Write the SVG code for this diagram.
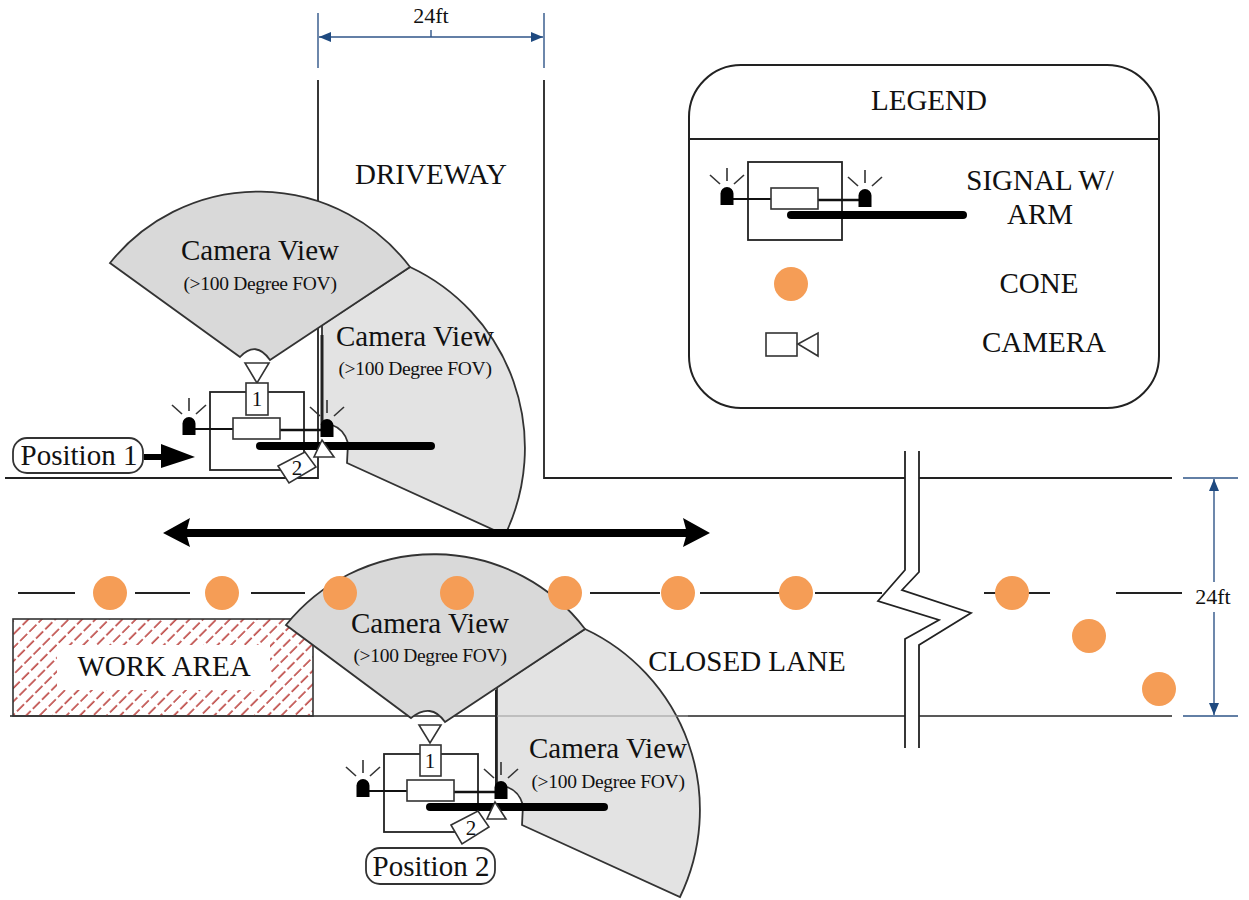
<svg xmlns="http://www.w3.org/2000/svg" xmlns:xlink="http://www.w3.org/1999/xlink" width="1249" height="900" viewBox="0 0 1249 900">
<style>
text{font-family:"Liberation Serif","Times New Roman",serif;fill:#111;text-anchor:middle}
.t28{font-size:29px}.t19{font-size:19.5px;letter-spacing:-.3px}.t20{font-size:21px}.t22{font-size:22px}
.road{fill:none;stroke:#222;stroke-width:1.8}
.dim{fill:none;stroke:#2f5588;stroke-width:1.4}
.dash{stroke:#222;stroke-width:1.8;fill:none}
.cone{fill:#f59d56}
.fan1{fill:#d9d9d9;stroke:#333;stroke-width:1.8}
.fan2{fill:#e3e3e3;stroke:#333;stroke-width:1.8}
.box{fill:none;stroke:#222;stroke-width:1.8}
.wbox{fill:#fff;stroke:#333;stroke-width:1.6}
.thin{fill:none;stroke:#111;stroke-width:1.8}
.thick{fill:none;stroke:#111;stroke-width:2.6}
.bar{stroke:#000;stroke-width:8;stroke-linecap:round}
.ray{stroke:#333;stroke-width:1.6}
.lamp{fill:#000}
.pill{fill:#fff;stroke:#333;stroke-width:1.8}
</style>
<defs>
<pattern id="hatch" width="9.5" height="13" patternUnits="userSpaceOnUse" patternTransform="rotate(45)">
<line x1="2" y1="0" x2="2" y2="13" stroke="#c0504d" stroke-width="1.7" stroke-dasharray="10 3"/>
</pattern>
<marker id="dimA" markerWidth="13" markerHeight="10" refX="12" refY="5" orient="auto-start-reverse" markerUnits="userSpaceOnUse"><path d="M0 0L12 5L0 10z" fill="#1f4a80"/></marker>
<g id="lampShape">
<path class="lamp" d="M-6.5 18V6.5a6.5 6.5 0 0 1 13 0V18z"/>
<line class="ray" x1="0" y1="-19" x2="0" y2="-6"/><line class="ray" x1="-17" y1="-12" x2="-7" y2="-3"/><line class="ray" x1="17" y1="-12" x2="7" y2="-3"/>
</g>
<g id="signal">
<rect class="box" x="210" y="392" width="94" height="78"/>
<line class="thin" x1="190" y1="429" x2="233" y2="429"/>
<line class="thick" x1="280" y1="430" x2="327" y2="430"/>
<rect x="233" y="418" width="47" height="21" fill="#fff" stroke="#333" stroke-width="1.6"/>
<use href="#lampShape" x="189" y="417"/>
<use href="#lampShape" x="327" y="419"/>
</g>
</defs>

<g id="connectors">
<path class="road" d="M318 80V478H5"/>
<path class="road" d="M544 80V478H1172"/>
<path class="road" d="M10 716H1172" stroke-opacity=".75"/>
<path class="dash" d="M18 593H75M135 593H190M251 593H305M360 593H430M480 593H540M590 593H660M700 593H780M815 593H882M984 593H1050M1116 593H1182"/>
<path class="dim" d="M318 13V68M544 13V68M431 30V37M1183 478H1238M1183 716H1238"/>
<line class="dim" x1="319" y1="37" x2="543" y2="37" marker-start="url(#dimA)" marker-end="url(#dimA)"/>
<line class="dim" x1="1214" y1="479" x2="1214" y2="582" marker-start="url(#dimA)"/>
<line class="dim" x1="1214" y1="612" x2="1214" y2="715" marker-end="url(#dimA)"/>
</g>

<g id="work-area">
<rect x="13" y="619" width="300" height="97" fill="url(#hatch)" stroke="#333" stroke-width="1.6"/>
<rect x="57" y="645" width="213" height="45" fill="#fff"/>
<text class="t28" x="164" y="676">WORK AREA</text>
</g>

<g id="road-break">
<path d="M905 451V570L878 601L939 620L905 639V748H919V645L971 613L902 590L919 572V451z" fill="#fff"/>
<path class="road" d="M905 451V570L878 601L939 620L905 639V748"/>
<path class="road" d="M919 451V572L902 590L971 613L919 645V748"/>
</g>

<g id="view-position1">
<path class="fan2" d="M410 267A200 200 0 0 1 505 535L347 463L348 443Q344 429 332 425L322 420V325z"/>
<line x1="322" y1="335" x2="322" y2="425" stroke="#222" stroke-width="3"/>
<path class="fan1" d="M110 263A190 190 0 0 1 410 267L270 360Q256 340 240 357z"/>
</g>
<g id="view-position2">
<path class="fan2" d="M585 629A200 200 0 0 1 680 897L522 825L523 805Q519 791 507 787L497 782V687z"/>
<line x1="496" y1="690" x2="496" y2="790" stroke="#222" stroke-width="2"/>
<line x1="497" y1="716" x2="688" y2="716" stroke="#999" stroke-width="1"/>
<path class="fan1" d="M286 625A190 190 0 0 1 585 629L445 722Q431 702 411 718z"/>
</g>

<g id="direction-arrow">
<line x1="180" y1="533" x2="695" y2="533" stroke="#000" stroke-width="8"/>
<path d="M163 533L190 518L186 533L190 547z" fill="#000"/>
<path d="M710 533L683 518L687 533L683 547z" fill="#000"/>
</g>

<g id="cones">
<circle class="cone" cx="110" cy="593" r="17"/><circle class="cone" cx="222" cy="593" r="17"/><circle class="cone" cx="340" cy="593" r="17"/><circle class="cone" cx="457" cy="593" r="17"/><circle class="cone" cx="565" cy="593" r="17"/><circle class="cone" cx="678" cy="593" r="17"/><circle class="cone" cx="796" cy="593" r="17"/><circle class="cone" cx="1012" cy="593" r="17"/><circle class="cone" cx="1089" cy="636" r="17"/><circle class="cone" cx="1159" cy="689" r="17"/>
</g>

<g id="signal-position1">
<use href="#signal"/>
<line class="bar" x1="260" y1="446" x2="431" y2="446"/>
<path class="wbox" d="M245 363H269L257 383z"/>
<rect class="wbox" x="246" y="383" width="22" height="32"/>
<text class="t20" x="257" y="406">1</text>
<path class="wbox" d="M322 440L334 457H314z"/>
<path class="wbox" d="M278 466L305 452L316 467L289 483z"/>
<text class="t20" x="297" y="475">2</text>
</g>
<g id="signal-position2">
<use href="#signal" x="174" y="362"/>
<line class="bar" x1="430" y1="807" x2="604" y2="807"/>
<path class="wbox" d="M419 725H441L430 743z"/>
<rect class="wbox" x="420" y="745" width="21" height="31"/>
<text class="t20" x="430" y="768">1</text>
<path class="wbox" d="M495 802L506 819H487z"/>
<path class="wbox" d="M451 825L478 811L489 827L462 844z"/>
<text class="t20" x="471" y="835">2</text>
</g>

<g id="position1-label">
<rect class="pill" x="13" y="438" width="130" height="35" rx="14"/>
<text class="t28" x="79" y="465">Position 1</text>
<path d="M144 454H161V444L195 457L161 468V460H144z" fill="#000"/>
</g>
<g id="position2-label">
<rect class="pill" x="366" y="848" width="129" height="36" rx="14"/>
<text class="t28" x="431" y="876">Position 2</text>
</g>

<g id="labels">
<text class="t28" x="431" y="184">DRIVEWAY</text>
<text class="t28" x="260" y="260">Camera View</text>
<text class="t19" x="260" y="290">(&gt;100 Degree FOV)</text>
<text class="t28" x="415" y="346">Camera View</text>
<text class="t19" x="415" y="375">(&gt;100 Degree FOV)</text>
<text class="t28" x="430" y="633">Camera View</text>
<text class="t19" x="430" y="662">(&gt;100 Degree FOV)</text>
<text class="t28" x="608" y="758">Camera View</text>
<text class="t19" x="608" y="788">(&gt;100 Degree FOV)</text>
<text class="t28" x="747" y="671">CLOSED LANE</text>
<text class="t22" x="431" y="23">24ft</text>
<text class="t22" x="1213" y="604">24ft</text>
</g>

<g id="legend">
<rect x="689" y="65" width="470" height="343" rx="52" fill="#fff" stroke="#222" stroke-width="2"/>
<line x1="689" y1="139" x2="1159" y2="139" stroke="#222" stroke-width="1.8"/>
<text class="t28" x="929" y="110">LEGEND</text>
<use href="#signal" x="538" y="-230"/>
<line class="bar" x1="791" y1="215" x2="963" y2="215"/>
<circle class="cone" cx="791" cy="284" r="17"/>
<rect class="wbox" x="766" y="333" width="31" height="23"/>
<path class="wbox" d="M798 344L818 333V356z"/>
<text class="t28" x="1040" y="190">SIGNAL W/</text>
<text class="t28" x="1040" y="224">ARM</text>
<text class="t28" x="1039" y="293">CONE</text>
<text class="t28" x="1044" y="352">CAMERA</text>
</g>
</svg>
